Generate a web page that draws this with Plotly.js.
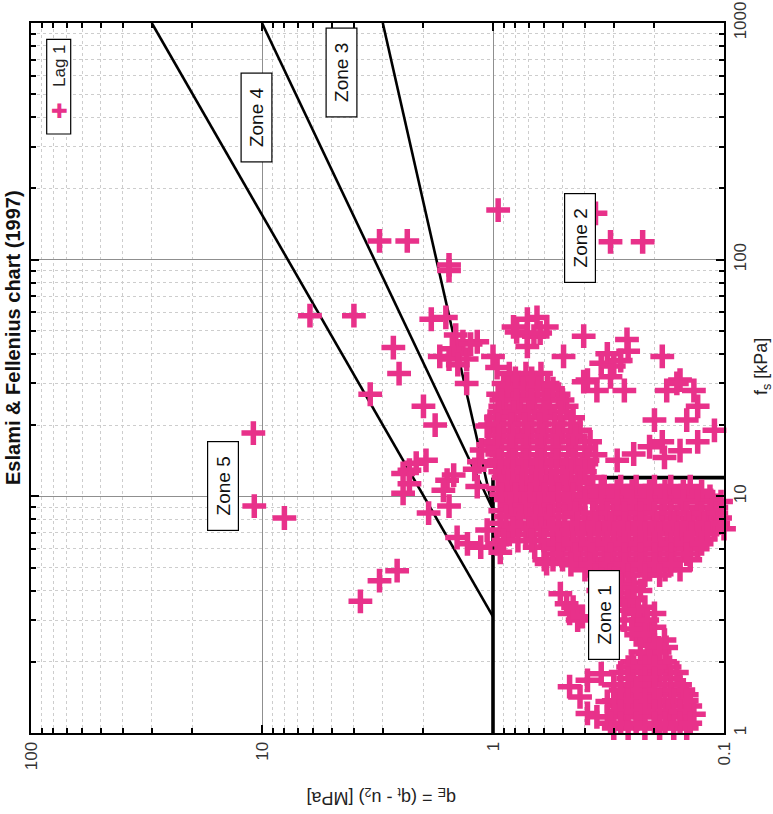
<!DOCTYPE html>
<html>
<head>
<meta charset="utf-8">
<script src="https://cdn.plot.ly/plotly-3.0.1.min.js"></script>
<style>html,body{margin:0;padding:0;background:#fff;}#chart{width:773px;height:814px;}</style>
</head>
<body>
<div id="chart"></div>
<script>
// ---- Data (qE in MPa, fs in kPa) ----
const outlierQE = [0.95,3.1,2.35,1.55,1.55,0.31,0.225,0.36,10.9,10.8,8.0,3.75,3.1,2.6,1.78,6.2,4.0,2.7,2.55,3.4,2.0,1.85,1.6,1.7,1.17,1.3,1.0,0.96,0.9,0.93,1.03,1.12,1.06,1.17,1.15,1.05,1.2];
const outlierFS = [162,120,120,95,90,119,119,157,18.5,9.1,8.1,3.6,4.4,4.85,20,58,58,42.5,33,27,24,56,57,39,45,30,39,35,26,24,20,15.7,19.8,11,14,16.5,13];

const lineClusterQE = [1.45,1.35,1.5,1.4,1.3,1.55,1.25,1.42, 2.3,2.45,2.15,1.95,2.3,2.45,1.9, 1.58,1.48,1.64,1.55, 1.43,1.29,1.13,0.96,0.93,1.06,0.88];
const lineClusterFS = [48,45,42,40,38,38,44,36, 12.9,12.5,13.8,14.2,11.3,10.3,8.5, 11.7,12.3,10.6,9.1, 6.7,6.3,6.1,6.3,5.8,7.2,7.0];

const upperQE = [0.815,0.71,0.645,0.585,0.71,0.665,0.79,0.625,0.71, 0.405,0.495, 0.263,0.26,0.32,0.34,0.3,0.28,0.31,0.39,0.355,0.27,0.405, 0.185,0.155,0.177, 0.16,0.135,0.13,0.145,0.2,0.185,0.13,0.155,0.11, 0.29,0.246,0.21,0.181];
const upperFS = [52,56,57,52,48,47.5,49.5,49,43, 47.5,39, 46,41,40,36.5,35.5,37.5,32,31,28,28,30.5, 39,31,28, 30,28,24,21,21,17,17,15.6,19, 14.2,15.1,16.2,14.6];

const columnQE = [0.85,0.72,0.62, 0.9,0.78,0.68,0.58, 0.95,0.82,0.7,0.6,0.52, 0.88,0.76,0.66,0.57,0.48, 0.97,0.84,0.72,0.62,0.54,0.45, 0.9,0.78,0.68,0.59,0.5,0.42, 0.98,0.85,0.74,0.64,0.55,0.47,0.38, 0.92,0.8,0.7,0.6,0.52,0.44,0.36, 0.97,0.86,0.75,0.65,0.56,0.48,0.41, 0.9,0.78,0.68,0.59,0.5,0.43,0.37, 0.95,0.83,0.72,0.62,0.54,0.46,0.39, 0.88,0.76,0.66,0.57,0.49,0.42, 0.93,0.8,0.7,0.6,0.52,0.45, 0.93,0.77,0.67,0.585,0.52, 0.85,0.72,0.62,0.55, 0.66,0.6, 0.6,0.55];
const columnFS = [33,33,33, 30,30,30,30, 27,27,27,27,27, 24,24,24,24,24, 21.5,21.5,21.5,21.5,21.5,21.5, 19,19,19,19,19,19, 17,17,17,17,17,17,17, 15,15,15,15,15,15,15, 13.5,13.5,13.5,13.5,13.5,13.5,13.5, 12,12,12,12,12,12,12, 10.8,10.8,10.8,10.8,10.8,10.8,10.8, 9.7,9.7,9.7,9.7,9.7,9.7, 8.7,8.7,8.7,8.7,8.7,8.7, 7.7,7.7,7.7,7.7,7.7, 6.9,6.9,6.9,6.9, 6.1,6.1, 5.4,5.4];

const columnFillQE = [0.8,0.68, 0.86,0.74,0.64,0.55, 0.92,0.79,0.68,0.58,0.5, 0.94,0.81,0.7,0.6,0.51, 0.95,0.83,0.73,0.63,0.54,0.46, 0.94,0.82,0.71,0.61,0.52,0.44, 0.95,0.83,0.72,0.62,0.53,0.45,0.4, 0.94,0.82,0.72,0.62,0.53,0.45,0.39, 0.93,0.82,0.72,0.62,0.53,0.46,0.4, 0.86,0.75,0.65,0.56,0.48,0.42, 0.92,0.8,0.69,0.6,0.52,0.45, 0.84,0.73,0.63,0.55,0.47, 0.88,0.76,0.65,0.57,0.49, 0.82,0.7,0.62,0.55, 0.9,0.78,0.68,0.6];
const columnFillFS = [31.5,31.5, 28.5,28.5,28.5,28.5, 25.5,25.5,25.5,25.5,25.5, 22.7,22.7,22.7,22.7,22.7, 20.2,20.2,20.2,20.2,20.2,20.2, 18,18,18,18,18,18, 16,16,16,16,16,16,16, 14.2,14.2,14.2,14.2,14.2,14.2,14.2, 12.7,12.7,12.7,12.7,12.7,12.7,12.7, 11.4,11.4,11.4,11.4,11.4,11.4, 10.2,10.2,10.2,10.2,10.2,10.2, 9.2,9.2,9.2,9.2,9.2, 8.2,8.2,8.2,8.2,8.2, 7.3,7.3,7.3,7.3, 6.5,6.5,6.5,6.5];

const blobQE = [0.33,0.28,0.24,0.2,0.17,0.14, 0.36,0.3,0.26,0.22,0.185,0.155,0.13,0.115, 0.33,0.28,0.24,0.2,0.17,0.145,0.125,0.108, 0.4,0.35,0.3,0.26,0.22,0.185,0.16,0.137,0.118,0.104, 0.45,0.38,0.32,0.28,0.24,0.2,0.17,0.15,0.128,0.11, 0.5,0.42,0.35,0.3,0.26,0.22,0.19,0.16,0.14,0.12, 0.55,0.46,0.39,0.33,0.28,0.24,0.2,0.175,0.15,0.13, 0.5,0.42,0.36,0.3,0.26,0.22,0.19,0.165,0.14, 0.4,0.34,0.29,0.25,0.21,0.18,0.155, 0.103,0.1];
const blobFS = [11,11,11,11,11,11, 10,10,10,10,10,10,10,10, 9,9,9,9,9,9,9,9, 8.1,8.1,8.1,8.1,8.1,8.1,8.1,8.1,8.1,8.1, 7.3,7.3,7.3,7.3,7.3,7.3,7.3,7.3,7.3,7.3, 6.6,6.6,6.6,6.6,6.6,6.6,6.6,6.6,6.6,6.6, 6.0,6.0,6.0,6.0,6.0,6.0,6.0,6.0,6.0,6.0, 5.4,5.4,5.4,5.4,5.4,5.4,5.4,5.4,5.4, 4.9,4.9,4.9,4.9,4.9,4.9,4.9, 9.5,7.3];

const blobFillQE = [0.34,0.29,0.25,0.21,0.18,0.15,0.125, 0.4,0.34,0.29,0.25,0.21,0.18,0.15,0.13,0.112, 0.44,0.37,0.32,0.27,0.23,0.2,0.17,0.145,0.125,0.108, 0.43,0.36,0.31,0.27,0.23,0.195,0.165,0.142,0.122,0.106, 0.48,0.41,0.35,0.3,0.26,0.22,0.19,0.16,0.138,0.118, 0.52,0.45,0.38,0.32,0.27,0.23,0.2,0.17,0.145,0.125, 0.52,0.44,0.37,0.31,0.27,0.23,0.2,0.17,0.145, 0.46,0.38,0.32,0.27,0.23,0.2,0.17, 0.36,0.31,0.26,0.22,0.19];
const blobFillFS = [10.5,10.5,10.5,10.5,10.5,10.5,10.5, 9.5,9.5,9.5,9.5,9.5,9.5,9.5,9.5,9.5, 8.5,8.5,8.5,8.5,8.5,8.5,8.5,8.5,8.5,8.5, 7.7,7.7,7.7,7.7,7.7,7.7,7.7,7.7,7.7,7.7, 6.95,6.95,6.95,6.95,6.95,6.95,6.95,6.95,6.95,6.95, 6.3,6.3,6.3,6.3,6.3,6.3,6.3,6.3,6.3,6.3, 5.7,5.7,5.7,5.7,5.7,5.7,5.7,5.7,5.7, 5.15,5.15,5.15,5.15,5.15,5.15,5.15, 4.65,4.65,4.65,4.65,4.65];

const armQE = [0.586,0.511,0.48,0.466,0.43,0.45,0.41, 0.263,0.246,0.229,0.2,0.181,0.178,0.172,0.215,0.246, 0.35,0.32,0.3, 0.3,0.26,0.23,0.28,0.25,0.22,0.2,0.27,0.24,0.21,0.19, 0.28,0.245,0.26,0.235,0.215,0.25,0.22,0.2,0.19,0.23,0.3,0.27,0.32];
const armFS = [5.2,3.88,3.52,3.2,3.0,3.4,3.1, 3.5,3.2,2.9,2.8,2.47,2.3,1.9,2.17,1.9, 4.0,3.4,2.8, 4.5,4.3,4.0,3.9,3.7,3.4,3.2,3.0,2.6,2.5,2.0, 4.2,4.1,3.6,3.3,3.0,2.75,2.6,2.35,2.2,2.2,3.6,3.3,4.3];

const bottomQE = [0.25,0.21,0.18, 0.28,0.23,0.19,0.16, 0.3,0.25,0.21,0.18,0.155, 0.27,0.23,0.2,0.17,0.145, 0.29,0.25,0.21,0.18,0.155,0.14, 0.32,0.27,0.23,0.2,0.17,0.15, 0.3,0.26,0.22,0.19,0.165,0.145, 0.466,0.42,0.39,0.34,0.32,0.39,0.355,0.135, 0.26,0.22,0.2, 0.26,0.22,0.2,0.17, 0.28,0.24,0.2,0.17,0.15, 0.3,0.26,0.22,0.19,0.165,0.145, 0.28,0.24,0.2,0.175,0.155, 0.31,0.28,0.24,0.2,0.18,0.155,0.14];
const bottomFS = [2.0,2.0,2.0, 1.8,1.8,1.8,1.8, 1.6,1.6,1.6,1.6,1.6, 1.45,1.45,1.45,1.45,1.45, 1.3,1.3,1.3,1.3,1.3,1.3, 1.17,1.17,1.17,1.17,1.17,1.17, 1.05,1.05,1.05,1.05,1.05,1.05, 1.57,1.42,1.67,1.78,1.36,1.21,1.17,1.2, 1.9,1.9,1.9, 1.7,1.7,1.7,1.7, 1.52,1.52,1.52,1.52,1.52, 1.37,1.37,1.37,1.37,1.37,1.37, 1.23,1.23,1.23,1.23,1.23, 1.1,1.1,1.1,1.1,1.1,1.1,1.1];

// Zone boundary end points (qE MPa, fs kPa)
const boundary54QE = [30, 1];   const boundary54FS = [1000, 3.1];
const boundary43QE = [10, 1];   const boundary43FS = [1000, 8.8];
const boundary32QE = [3, 1];    const boundary32FS = [1000, 8.8];
const zone1VertQE = [1, 1];     const zone1VertFS = [1, 12];
const zone1HorQE = [1, 0.1];    const zone1HorFS = [12, 12];

const xTickVals = [100, 10, 1, 0.1];
const xTickText = ['100', '10', '1', '0.1'];
const yTickVals = [1, 10, 100, 1000];
const yTickText = ['1', '10', '100', '1000'];
const xMinor = [0.2,0.3,0.4,0.5,0.6,0.7,0.8,0.9,2,3,4,5,6,7,8,9,20,30,40,50,60,70,80,90];
const yMinor = [2,3,4,5,6,7,8,9,20,30,40,50,60,70,80,90,200,300,400,500,600,700,800,900];

const zoneLabels = ['Zone 1', 'Zone 2', 'Zone 3', 'Zone 4', 'Zone 5'];
const seriesName = 'Lag 1';

// ---- Build ----
const pink = '#E8318A';
const FONT = 'Liberation Sans, Arial, sans-serif';

const allQE = [].concat(outlierQE, lineClusterQE, upperQE, columnQE, columnFillQE, blobQE, blobFillQE, armQE, bottomQE);
const allFS = [].concat(outlierFS, lineClusterFS, upperFS, columnFS, columnFillFS, blobFS, blobFillFS, armFS, bottomFS);

function line(x, y, w) {
  return {type: 'scatter', mode: 'lines', x: x, y: y, line: {color: '#000', width: w}, hoverinfo: 'skip', showlegend: false};
}

const traces = [
  line(boundary54QE, boundary54FS, 2.6),
  line(boundary43QE, boundary43FS, 2.6),
  line(boundary32QE, boundary32FS, 2.6),
  line(zone1VertQE, zone1VertFS, 3.6),
  line(zone1HorQE, zone1HorFS, 3.6),
  {
    type: 'scatter', mode: 'markers', name: seriesName,
    x: allQE, y: allFS, cliponaxis: false, showlegend: false,
    marker: {symbol: 'cross-thin', size: 17, color: pink, line: {color: pink, width: 5.5}}
  }
];

// pixel -> paper helpers for layout placement
const L = 31, T = 23, PW = 693, PH = 710;
const px = v => (v - L) / PW;
const py = v => 1 - (v - T) / PH;

const zonePos = {
  'Zone 1': [604, 615],
  'Zone 2': [580, 238],
  'Zone 3': [341.5, 73],
  'Zone 4': [256.5, 118],
  'Zone 5': [223, 486]
};

const annotations = zoneLabels.map(z => ({
  text: z, xref: 'paper', yref: 'paper', x: px(zonePos[z][0]), y: py(zonePos[z][1]),
  xanchor: 'center', yanchor: 'middle', showarrow: false, textangle: -90,
  font: {family: FONT, size: 19, color: '#111'},
  bgcolor: '#fff', bordercolor: '#000', borderwidth: 1.2, borderpad: 4, width: 80, height: 22
}));

annotations.push(
  {text: '<b>Eslami &amp; Fellenius chart (1997)</b>', xref: 'paper', yref: 'paper', x: px(13), y: py(338),
   xanchor: 'center', yanchor: 'middle', showarrow: false, textangle: -90, font: {family: FONT, size: 20, color: '#111'}},
  {text: 'q<sub>E</sub> = (q<sub>t</sub> - u<sub>2</sub>) [MPa]', xref: 'paper', yref: 'paper', x: px(381), y: py(797),
   xanchor: 'center', yanchor: 'middle', showarrow: false, textangle: 180, font: {family: FONT, size: 18, color: '#222'}},
  {text: 'f<sub>s</sub> [kPa]', xref: 'paper', yref: 'paper', x: px(762), y: py(367),
   xanchor: 'center', yanchor: 'middle', showarrow: false, textangle: -90, font: {family: FONT, size: 18, color: '#222'}},
  {text: seriesName, xref: 'paper', yref: 'paper', x: px(59), y: py(66),
   xanchor: 'center', yanchor: 'middle', showarrow: false, textangle: -90, font: {family: FONT, size: 17, color: '#222'}},
  {text: '✚', xref: 'paper', yref: 'paper', x: px(59), y: py(111),
   xanchor: 'center', yanchor: 'middle', showarrow: false, font: {family: 'DejaVu Sans', size: 20, color: pink}}
);

const shapes = [
  {type: 'rect', xref: 'paper', yref: 'paper', x0: px(46.7), x1: px(70.7), y0: py(134), y1: py(39.3),
   line: {color: '#000', width: 1.2}, fillcolor: '#fff', layer: 'above'}
];

function axisBase() {
  return {
    type: 'log', autorange: false, tickmode: 'array', tickangle: -90,
    ticks: 'inside', ticklen: 8, tickwidth: 2, tickcolor: '#000',
    showline: true, linewidth: 2, linecolor: '#000', mirror: 'allticks',
    showgrid: true, gridcolor: '#8f8f8f', gridwidth: 1, zeroline: false,
    tickfont: {family: FONT, size: 17, color: '#333'},
    minor: {tickmode: 'array', ticks: 'inside', ticklen: 5, tickwidth: 2, tickcolor: '#000',
            showgrid: true, gridcolor: '#cdcdcd', griddash: 'dot', gridwidth: 1}
  };
}

const xaxis = Object.assign(axisBase(), {range: [2, -1], tickvals: xTickVals, ticktext: xTickText});
xaxis.minor.tickvals = xMinor;
const yaxis = Object.assign(axisBase(), {range: [0, 3], tickvals: yTickVals, ticktext: yTickText, side: 'right'});
yaxis.minor.tickvals = yMinor;

const layout = {
  width: 773, height: 814,
  margin: {l: L, r: 773 - L - PW, t: T, b: 814 - T - PH, pad: 0},
  paper_bgcolor: '#fff', plot_bgcolor: '#fff',
  showlegend: false,
  xaxis: xaxis, yaxis: yaxis,
  annotations: annotations, shapes: shapes,
  font: {family: FONT}
};

Plotly.newPlot('chart', traces, layout, {staticPlot: true, displayModeBar: false});
</script>
</body>
</html>
